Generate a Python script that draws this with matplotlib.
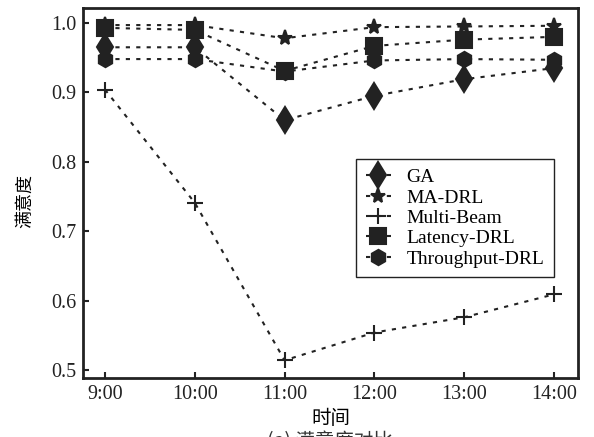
import matplotlib
matplotlib.use("Agg")
import matplotlib.pyplot as plt

times = ["9:00", "10:00", "11:00", "12:00", "13:00", "14:00"]
ga = [0.965, 0.965, 0.860, 0.895, 0.919, 0.935]
ma_drl = [0.997, 0.997, 0.978, 0.994, 0.995, 0.996]
multi_beam = [0.904, 0.741, 0.514, 0.554, 0.576, 0.609]
latency_drl = [0.993, 0.990, 0.931, 0.967, 0.976, 0.980]
throughput_drl = [0.948, 0.948, 0.930, 0.946, 0.948, 0.947]

series = [
    ("GA", ga, "d", 13),
    ("MA-DRL", ma_drl, "*", 11),
    ("Multi-Beam", multi_beam, "+", 12),
    ("Latency-DRL", latency_drl, "s", 12),
    ("Throughput-DRL", throughput_drl, "h", 11),
]

serif = ["Liberation Serif", "DejaVu Serif"]
cjk = ["Noto Sans CJK SC", "DejaVu Sans"]

fig = plt.figure(figsize=(5.94, 4.37), dpi=100)
ax = fig.add_axes([0.1397, 0.135, 0.8333, 0.8467])
x = list(range(len(times)))
for name, vals, mk, ms in series:
    ax.plot(x, vals, linestyle=(0, (2, 3)), color="#222222", linewidth=1.5,
            marker=mk, markersize=ms, markerfacecolor="#222222",
            markeredgecolor="#222222", markeredgewidth=1.5, label=name)

ax.set_xlim(-0.245, 5.267)
ax.set_ylim(0.4885, 1.0216)
ax.set_xticks(x)
ax.set_xticklabels(times, fontfamily=serif, fontsize=14.5)
ax.set_yticks([0.5, 0.6, 0.7, 0.8, 0.9, 1.0])
ax.set_yticklabels(["0.5", "0.6", "0.7", "0.8", "0.9", "1.0"], fontfamily=serif, fontsize=14.5)
ax.tick_params(direction="in", length=4, width=1.5, colors="#222222", pad=5)
for s in ax.spines.values():
    s.set_linewidth(2)
    s.set_color("#222222")

ax.set_ylabel("满意度", fontfamily=cjk, fontsize=13)
ax.yaxis.set_label_coords(-0.098, 0.478)
ax.set_xlabel("时间", fontfamily=cjk, fontsize=14, labelpad=3)

leg = ax.legend(loc="upper left", bbox_to_anchor=(0.5515, 0.592), prop={"family": serif, "size": 14},
                handlelength=1.3, handletextpad=0.8, labelspacing=0.14, borderpad=0.5,
                borderaxespad=0.0,
                numpoints=1, fancybox=False, framealpha=1, edgecolor="#222222")
leg.get_frame().set_linewidth(1.0)

fig.text(0.555, -0.035, "(a) 满意度对比", fontfamily=cjk, fontsize=14, ha="center", va="bottom", color="#333333")

fig.savefig("out.png", dpi=100)
